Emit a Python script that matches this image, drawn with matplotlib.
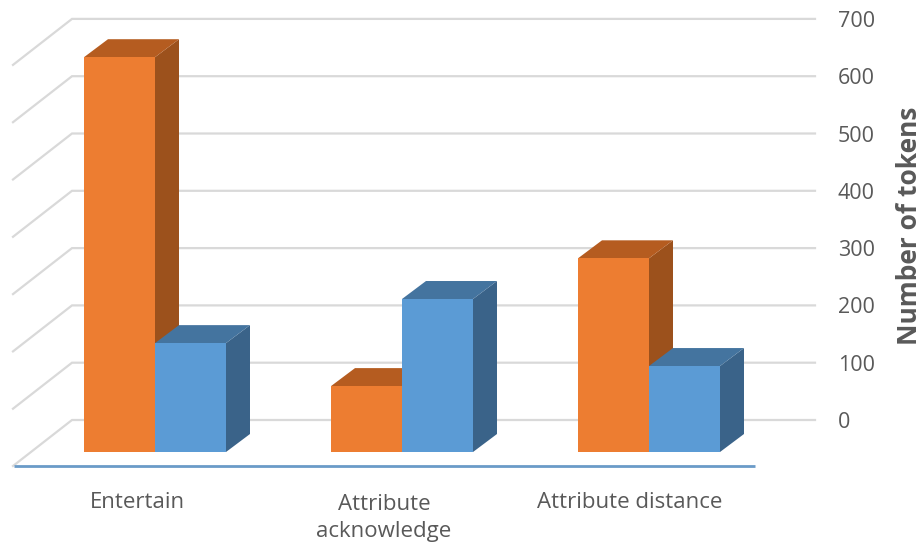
import matplotlib
matplotlib.use('Agg')
import matplotlib.pyplot as plt
from matplotlib.patches import Polygon

plt.rcParams['font.family'] = ['Open Sans', 'DejaVu Sans']

# %% data
categories = ['Entertain', 'Attribute\nacknowledge', 'Attribute distance']
orange_vals = [689, 115, 338]
blue_vals = [190, 267, 150]
y_ticks = [0, 100, 200, 300, 400, 500, 600, 700]

# %% pseudo-3d geometry, x in category units and y in token units
PX_X = 247.0   # pixels per category
PX_Y = 0.573   # pixels per token
W, H = 921, 545
BAR_W = 71 / PX_X
DX = 24 / PX_X
DY = 18 / PX_Y
WALL_Y = 32 / PX_Y         # back wall zero sits above the bar base
WALL_X0 = (72 - 155) / PX_X
WALL_X1 = (815 - 155) / PX_X
SIDE_DX = 59 / PX_X
SIDE_DY = 46 / PX_Y


def px(x):
    return (x - 155) / PX_X


def py(y):
    return (452 - y) / PX_Y


fig = plt.figure(figsize=(W / 100, H / 100), dpi=100)
ax = fig.add_axes([0, 0, 1, 1])
ax.set_xlim(px(0), px(W))
ax.set_ylim(py(H), py(0))
ax.axis('off')

# gridlines: side wall plus back wall
for t in y_ticks:
    yb = t + WALL_Y
    ax.plot([WALL_X0 - SIDE_DX, WALL_X0, WALL_X1], [yb - SIDE_DY, yb, yb],
            color='#d9d9d9', lw=1.6, zorder=1, solid_joinstyle='miter')
    ax.text(px(838), yb - 2.5 / PX_Y, str(t), fontsize=15.5, color='#595959',
            ha='left', va='center')

# category axis line
ax.plot([px(14), px(755)], [py(465.5)] * 2,
        color='#6a9bc8', lw=2, zorder=2, solid_capstyle='butt')


def draw_bar(x, val, front, top, side, z):
    ax.add_patch(Polygon([(x + BAR_W, 0), (x + BAR_W + DX, DY), (x + BAR_W + DX, val + DY), (x + BAR_W, val)],
                         closed=True, fc=side, ec='none', zorder=z))
    ax.add_patch(Polygon([(x, val), (x + BAR_W, val), (x + BAR_W + DX, val + DY), (x + DX, val + DY)],
                         closed=True, fc=top, ec='none', zorder=z))
    ax.add_patch(Polygon([(x, 0), (x + BAR_W, 0), (x + BAR_W, val), (x, val)],
                         closed=True, fc=front, ec='none', zorder=z + 0.5))


for i, (a, b) in enumerate(zip(orange_vals, blue_vals)):
    draw_bar(i - BAR_W, a, '#ed7d31', '#b55c20', '#9c511c', 3)
    draw_bar(i, b, '#5b9bd5', '#44749f', '#3a6389', 4)

# category labels
label_x = [137, 384, 630]
label_y = [502, 518, 502]
for c, lx, ly in zip(categories, label_x, label_y):
    ax.text(px(lx), py(ly), c, fontsize=16, color='#595959',
            ha='center', va='center', linespacing=1.4)

ax.text(px(909), py(226), 'Number of tokens', rotation=90, fontsize=19,
        fontweight='bold', color='#595959', ha='center', va='center')

fig.savefig('out.png', dpi=100)
